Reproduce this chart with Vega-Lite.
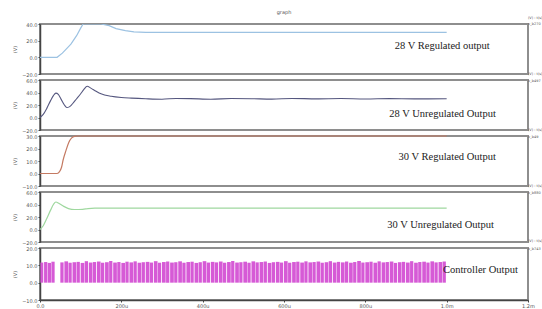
{
  "$schema": "https://vega.github.io/schema/vega-lite/v6.json",
  "background": "white",
  "padding": {"left": 11, "top": 9, "right": 0, "bottom": 0},
  "spacing": 6,
  "bounds": "flush",
  "datasets": {
    "p1": [{"t":0,"v":0},{"t":42,"v":0},{"t":55,"v":5},{"t":76,"v":15.8},{"t":90,"v":26},{"t":100,"v":35},{"t":106,"v":40},{"t":150,"v":40},{"t":170,"v":38},{"t":187,"v":34.5},{"t":210,"v":32},{"t":231,"v":30.5},{"t":260,"v":30},{"t":1000,"v":30}],
    "p2": [{"t":0,"v":0},{"t":8,"v":5},{"t":17,"v":15},{"t":26,"v":27},{"t":33,"v":35},{"t":39,"v":39},{"t":45,"v":37},{"t":52,"v":29},{"t":60,"v":20},{"t":66,"v":16},{"t":72,"v":17},{"t":80,"v":22},{"t":90,"v":30},{"t":100,"v":38},{"t":108,"v":45},{"t":116,"v":50},{"t":125,"v":47},{"t":138,"v":42},{"t":150,"v":38},{"t":175,"v":34},{"t":200,"v":32},{"t":225,"v":31},{"t":260,"v":30},{"t":300,"v":29.3},{"t":335,"v":30.5},{"t":370,"v":30.2},{"t":420,"v":29.2},{"t":470,"v":30.4},{"t":520,"v":30.1},{"t":570,"v":29.4},{"t":620,"v":30.5},{"t":680,"v":29.8},{"t":740,"v":30.3},{"t":800,"v":29.6},{"t":860,"v":30.2},{"t":920,"v":29.8},{"t":1000,"v":30}],
    "p3": [{"t":0,"v":0},{"t":42,"v":0},{"t":48,"v":1.5},{"t":53,"v":5},{"t":57,"v":11},{"t":64,"v":18.5},{"t":71,"v":25},{"t":78,"v":28.5},{"t":85,"v":29.7},{"t":92,"v":30},{"t":1000,"v":30}],
    "p4": [{"t":0,"v":0},{"t":8,"v":6},{"t":17,"v":18},{"t":26,"v":31},{"t":33,"v":40},{"t":39,"v":44},{"t":47,"v":41.5},{"t":57,"v":37.5},{"t":70,"v":33.5},{"t":85,"v":32},{"t":105,"v":32.3},{"t":118,"v":33.5},{"t":135,"v":34.2},{"t":200,"v":34.3},{"t":400,"v":34.2},{"t":600,"v":34.3},{"t":800,"v":34.2},{"t":1000,"v":34.2}],
    "p5": [
      {"t":1,"t2":8,"v":11.6},{"t":10,"t2":18,"v":11.9},{"t":19,"t2":27,"v":11.4},{"t":28,"t2":36,"v":12.1},
      {"t":50,"t2":58,"v":11.7},{"t":60,"t2":69,"v":12.3},{"t":70,"t2":78,"v":11.5},{"t":80,"t2":89,"v":11.8},{"t":90,"t2":98,"v":12.0},
      {"t":100,"t2":109,"v":11.4},{"t":110,"t2":118,"v":12.4},{"t":120,"t2":129,"v":11.6},{"t":130,"t2":138,"v":11.9},{"t":140,"t2":149,"v":12.2},
      {"t":150,"t2":158,"v":11.5},{"t":160,"t2":169,"v":11.8},{"t":170,"t2":178,"v":12.5},{"t":180,"t2":189,"v":11.6},{"t":190,"t2":198,"v":11.9},
      {"t":200,"t2":209,"v":11.4},{"t":210,"t2":218,"v":12.1},{"t":220,"t2":229,"v":11.7},{"t":230,"t2":238,"v":12.3},{"t":240,"t2":249,"v":11.5},
      {"t":250,"t2":258,"v":11.8},{"t":260,"t2":269,"v":12.0},{"t":270,"t2":278,"v":11.6},{"t":280,"t2":289,"v":12.4},{"t":290,"t2":298,"v":11.5},
      {"t":300,"t2":309,"v":11.9},{"t":310,"t2":318,"v":12.2},{"t":320,"t2":329,"v":11.6},{"t":330,"t2":338,"v":11.8},{"t":340,"t2":349,"v":12.3},
      {"t":350,"t2":358,"v":11.5},{"t":360,"t2":369,"v":11.9},{"t":370,"t2":378,"v":12.1},{"t":380,"t2":389,"v":11.4},{"t":390,"t2":398,"v":11.8},
      {"t":400,"t2":409,"v":12.4},{"t":410,"t2":418,"v":11.6},{"t":420,"t2":429,"v":12.0},{"t":430,"t2":438,"v":11.7},{"t":440,"t2":449,"v":12.2},
      {"t":450,"t2":458,"v":11.5},{"t":460,"t2":469,"v":11.9},{"t":470,"t2":478,"v":12.5},{"t":480,"t2":489,"v":11.6},{"t":490,"t2":498,"v":11.8},
      {"t":500,"t2":509,"v":12.1},{"t":510,"t2":518,"v":11.5},{"t":520,"t2":529,"v":12.3},{"t":530,"t2":538,"v":11.7},{"t":540,"t2":549,"v":11.9},
      {"t":550,"t2":558,"v":12.2},{"t":560,"t2":569,"v":11.4},{"t":570,"t2":578,"v":11.8},{"t":580,"t2":589,"v":12.0},{"t":590,"t2":598,"v":11.6},
      {"t":600,"t2":609,"v":12.4},{"t":610,"t2":618,"v":11.5},{"t":620,"t2":629,"v":11.9},{"t":630,"t2":638,"v":12.1},{"t":640,"t2":649,"v":11.6},
      {"t":650,"t2":658,"v":12.3},{"t":660,"t2":669,"v":11.7},{"t":670,"t2":678,"v":11.9},{"t":680,"t2":689,"v":12.2},{"t":690,"t2":698,"v":11.5},
      {"t":700,"t2":709,"v":11.8},{"t":710,"t2":718,"v":12.4},{"t":720,"t2":729,"v":11.6},{"t":730,"t2":738,"v":12.0},{"t":740,"t2":749,"v":11.7},
      {"t":750,"t2":758,"v":12.2},{"t":760,"t2":769,"v":11.5},{"t":770,"t2":778,"v":11.9},{"t":780,"t2":789,"v":12.5},{"t":790,"t2":798,"v":11.6},
      {"t":800,"t2":809,"v":11.8},{"t":810,"t2":818,"v":12.1},{"t":820,"t2":829,"v":11.5},{"t":830,"t2":838,"v":12.3},{"t":840,"t2":849,"v":11.7},
      {"t":850,"t2":858,"v":11.9},{"t":860,"t2":869,"v":12.2},{"t":870,"t2":878,"v":11.4},{"t":880,"t2":889,"v":11.8},{"t":890,"t2":898,"v":12.0},
      {"t":900,"t2":909,"v":11.6},{"t":910,"t2":918,"v":12.4},{"t":920,"t2":929,"v":11.5},{"t":930,"t2":938,"v":11.9},{"t":940,"t2":949,"v":12.1},
      {"t":950,"t2":958,"v":11.6},{"t":960,"t2":969,"v":12.3},{"t":970,"t2":978,"v":11.7},{"t":980,"t2":989,"v":11.9},{"t":990,"t2":998,"v":12.2}
    ]
  },
  "vconcat": [
    {
      "width": 488, "height": 50,
      "title": {"text": "graph", "fontSize": 5, "color": "#555", "fontWeight": "normal", "font": "DejaVu Sans", "offset": 1, "anchor": "middle"},
      "encoding": {
        "x": {"field": "t", "type": "quantitative", "scale": {"domain": [0, 1200], "nice": false}, "axis": null},
        "y": {"field": "v", "type": "quantitative", "scale": {"domain": [-20, 40], "nice": false}, "axis": {"values": [-20, 0, 20, 40], "format": ".1f", "title": "(V)"}}
      },
      "layer": [
        {"data": {"name": "p1"}, "mark": {"type": "line", "color": "#9cc2e2", "strokeWidth": 1.2, "clip": true}},
        {"data": {"values": [{"t": 1106, "v": 13.3, "s": "28 V Regulated output"}]}, "mark": {"type": "text", "align": "right", "baseline": "middle", "font": "Liberation Serif", "fontSize": 10.5, "color": "#222"}, "encoding": {"text": {"field": "s"}}},
        {"data": {"values": [{"t": 1200, "v": 47, "s": "(V) : t(s)"}, {"t": 1200, "v": 39.5, "s": "v_b270"}]}, "mark": {"type": "text", "align": "left", "baseline": "middle", "font": "DejaVu Sans", "fontSize": 3.5, "color": "#555"}, "encoding": {"text": {"field": "s"}}}
      ]
    },
    {
      "width": 488, "height": 50,
      "encoding": {
        "x": {"field": "t", "type": "quantitative", "scale": {"domain": [0, 1200], "nice": false}, "axis": null},
        "y": {"field": "v", "type": "quantitative", "scale": {"domain": [-20, 60], "nice": false}, "axis": {"values": [-20, 0, 20, 40, 60], "format": ".1f", "title": "(V)"}}
      },
      "layer": [
        {"data": {"name": "p2"}, "mark": {"type": "line", "color": "#55577f", "strokeWidth": 1.1, "clip": true, "interpolate": "monotone"}},
        {"data": {"values": [{"t": 1121, "v": 5.6, "s": "28 V Unregulated Output"}]}, "mark": {"type": "text", "align": "right", "baseline": "middle", "font": "Liberation Serif", "fontSize": 10.5, "color": "#222"}, "encoding": {"text": {"field": "s"}}},
        {"data": {"values": [{"t": 1200, "v": 70, "s": "(V) : t(s)"}, {"t": 1200, "v": 58, "s": "v_b497"}]}, "mark": {"type": "text", "align": "left", "baseline": "middle", "font": "DejaVu Sans", "fontSize": 3.5, "color": "#555"}, "encoding": {"text": {"field": "s"}}}
      ]
    },
    {
      "width": 488, "height": 50,
      "encoding": {
        "x": {"field": "t", "type": "quantitative", "scale": {"domain": [0, 1200], "nice": false}, "axis": null},
        "y": {"field": "v", "type": "quantitative", "scale": {"domain": [-10, 30], "nice": false}, "axis": {"values": [-10, 0, 10, 20, 30], "format": ".1f", "title": "(V)"}}
      },
      "layer": [
        {"data": {"name": "p3"}, "mark": {"type": "line", "color": "#c47a62", "strokeWidth": 1.2, "clip": false, "interpolate": "monotone"}},
        {"data": {"values": [{"t": 1121, "v": 12.9, "s": "30 V Regulated Output"}]}, "mark": {"type": "text", "align": "right", "baseline": "middle", "font": "Liberation Serif", "fontSize": 10.5, "color": "#222"}, "encoding": {"text": {"field": "s"}}},
        {"data": {"values": [{"t": 1200, "v": 35, "s": "(V) : t(s)"}, {"t": 1200, "v": 29.3, "s": "v_b49"}]}, "mark": {"type": "text", "align": "left", "baseline": "middle", "font": "DejaVu Sans", "fontSize": 3.5, "color": "#555"}, "encoding": {"text": {"field": "s"}}}
      ]
    },
    {
      "width": 488, "height": 50,
      "encoding": {
        "x": {"field": "t", "type": "quantitative", "scale": {"domain": [0, 1200], "nice": false}, "axis": null},
        "y": {"field": "v", "type": "quantitative", "scale": {"domain": [-20, 60], "nice": false}, "axis": {"values": [-20, 0, 20, 40, 60], "format": ".1f", "title": "(V)"}}
      },
      "layer": [
        {"data": {"name": "p4"}, "mark": {"type": "line", "color": "#9fd89f", "strokeWidth": 1.2, "clip": true, "interpolate": "monotone"}},
        {"data": {"values": [{"t": 1116, "v": 7.8, "s": "30 V Unregulated Output"}]}, "mark": {"type": "text", "align": "right", "baseline": "middle", "font": "Liberation Serif", "fontSize": 10.5, "color": "#222"}, "encoding": {"text": {"field": "s"}}},
        {"data": {"values": [{"t": 1200, "v": 70, "s": "(V) : t(s)"}, {"t": 1200, "v": 58, "s": "v_b880"}]}, "mark": {"type": "text", "align": "left", "baseline": "middle", "font": "DejaVu Sans", "fontSize": 3.5, "color": "#555"}, "encoding": {"text": {"field": "s"}}}
      ]
    },
    {
      "width": 488, "height": 52,
      "encoding": {
        "x": {"field": "t", "type": "quantitative", "scale": {"domain": [0, 1200], "nice": false}, "axis": {"values": [0, 200, 400, 600, 800, 1000, 1200], "labelExpr": "datum.value == 0 ? '0.0' : datum.value < 1000 ? datum.value + 'u' : format(datum.value / 1000, '.1f') + 'm'", "title": null, "labelFlush": false}},
        "y": {"field": "v", "type": "quantitative", "scale": {"domain": [-10, 20], "nice": false}, "axis": {"values": [-10, 0, 10, 20], "format": ".1f", "title": "(V)"}}
      },
      "layer": [
        {"data": {"name": "p5"}, "mark": {"type": "rect", "color": "#d65ad6", "opacity": 1, "clip": true}, "encoding": {"x2": {"field": "t2"}, "y2": {"datum": 0}}},
        {"data": {"values": [{"t": 1175, "v": 7.3, "s": "Controller Output"}]}, "mark": {"type": "text", "align": "right", "baseline": "middle", "font": "Liberation Serif", "fontSize": 10.5, "color": "#222"}, "encoding": {"text": {"field": "s"}}},
        {"data": {"values": [{"t": 1200, "v": 24, "s": "(V) : t(s)"}, {"t": 1200, "v": 19.5, "s": "v_b743"}]}, "mark": {"type": "text", "align": "left", "baseline": "middle", "font": "DejaVu Sans", "fontSize": 3.5, "color": "#555"}, "encoding": {"text": {"field": "s"}}}
      ]
    }
  ],
  "config": {
    "view": {"stroke": "#8e8e8e", "strokeWidth": 2},
    "axis": {"grid": false, "labelFontSize": 5, "labelFont": "DejaVu Sans", "labelColor": "#555", "tickSize": 2, "tickColor": "#444", "domainColor": "#444", "domainWidth": 1.5, "labelPadding": 1, "titleFontSize": 5, "titleFont": "DejaVu Sans", "titleFontWeight": "normal", "titleColor": "#555", "titlePadding": 4}
  }
}
